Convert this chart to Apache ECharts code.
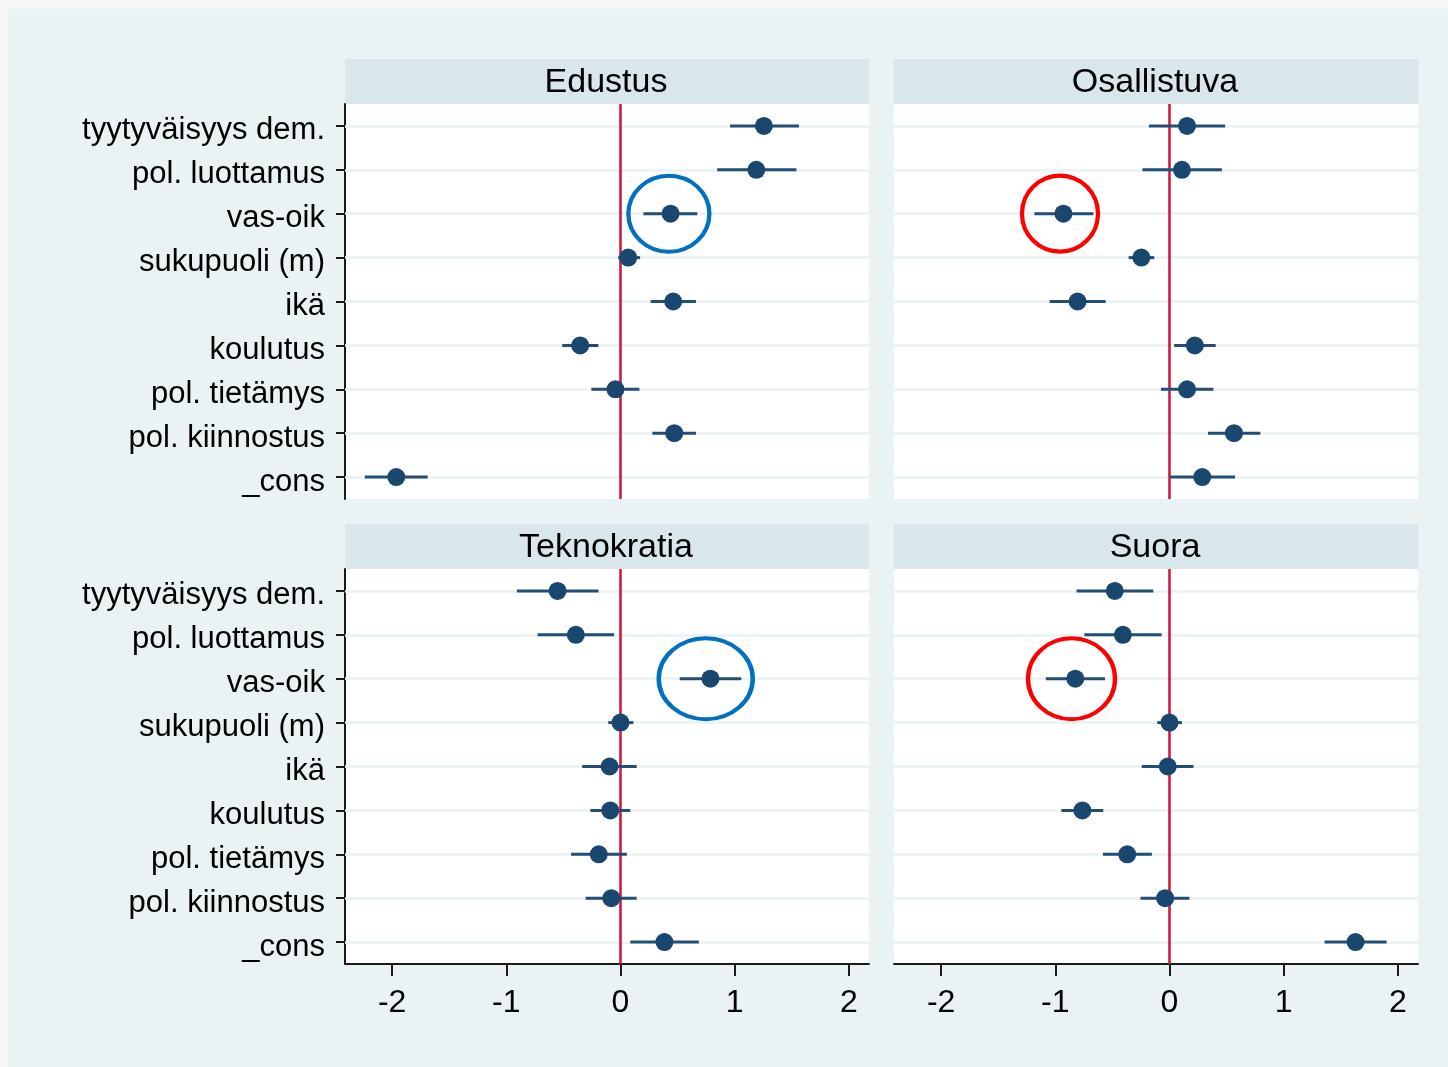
<!DOCTYPE html>
<html>
<head>
<meta charset="utf-8">
<script src="https://cdn.jsdelivr.net/npm/echarts@6/dist/echarts.min.js"></script>
<style>html,body{margin:0;padding:0;background:#f6f6f6;}#c{width:1448px;height:1067px;}</style>
</head>
<body>
<div id="c"></div>
<script>
const categories = ['tyytyväisyys dem.', 'pol. luottamus', 'vas-oik', 'sukupuoli (m)', 'ikä', 'koulutus', 'pol. tietämys', 'pol. kiinnostus', '_cons'];
const tickValues = [-2, -1, 0, 1, 2];
const panelTitles = ['Edustus', 'Osallistuva', 'Teknokratia', 'Suora'];

const edustusCoef = [1.256, 1.19, 0.439, 0.068, 0.462, -0.353, -0.044, 0.471, -1.964];
const edustusLo   = [0.96, 0.847, 0.201, -0.02, 0.264, -0.51, -0.255, 0.279, -2.24];
const edustusHi   = [1.564, 1.541, 0.673, 0.172, 0.661, -0.193, 0.166, 0.661, -1.689];

const osallistuvaCoef = [0.154, 0.109, -0.929, -0.246, -0.805, 0.222, 0.154, 0.565, 0.287];
const osallistuvaLo   = [-0.18, -0.237, -1.183, -0.358, -1.05, 0.041, -0.074, 0.337, 0.006];
const osallistuvaHi   = [0.488, 0.459, -0.666, -0.133, -0.559, 0.405, 0.385, 0.796, 0.574];

const teknokratiaCoef = [-0.551, -0.391, 0.788, 0.0, -0.095, -0.089, -0.19, -0.08, 0.385];
const teknokratiaLo   = [-0.907, -0.726, 0.519, -0.107, -0.335, -0.264, -0.433, -0.305, 0.086];
const teknokratiaHi   = [-0.193, -0.056, 1.058, 0.113, 0.142, 0.086, 0.056, 0.142, 0.687];

const suoraCoef = [-0.479, -0.408, -0.825, 0.0, -0.015, -0.763, -0.37, -0.038, 1.63];
const suoraLo   = [-0.814, -0.746, -1.083, -0.107, -0.243, -0.947, -0.583, -0.254, 1.358];
const suoraHi   = [-0.142, -0.068, -0.565, 0.109, 0.21, -0.58, -0.154, 0.175, 1.902];

// annotation rings around the vas-oik estimate
const highlightCategory = 'vas-oik';
const highlightCenter = [0.424, -0.959, 0.747, -0.858];
const highlightColor = ['#0070c0', '#ff0000', '#0070c0', '#ff0000'];
const highlightSize = [[81, 76], [76, 76], [94, 81], [87, 81]];

const panelCoef = [edustusCoef, osallistuvaCoef, teknokratiaCoef, suoraCoef];
const panelLo = [edustusLo, osallistuvaLo, teknokratiaLo, suoraLo];
const panelHi = [edustusHi, osallistuvaHi, teknokratiaHi, suoraHi];

const FONT = "'Liberation Sans', Arial, sans-serif";
const NAVY = '#1a476f';
const gridPos = [
  {left: 345, top: 104},
  {left: 894, top: 104},
  {left: 345, top: 569},
  {left: 894, top: 569}
];
const GW = 524, GH = 395;

const grids = gridPos.map(p => ({
  left: p.left, top: p.top, width: GW, height: GH,
  show: true, backgroundColor: '#ffffff', borderWidth: 0, containLabel: false
}));

const xAxes = gridPos.map((p, i) => {
  const bottom = i >= 2;
  return {
    gridIndex: i, type: 'value', min: -2.413, max: 2.177,
    splitLine: {show: false},
    axisLine: {show: bottom, onZero: false, lineStyle: {color: '#1a1a1a', width: 2}},
    axisTick: {show: bottom, customValues: tickValues, length: 12, lineStyle: {color: '#1a1a1a', width: 2}},
    axisLabel: {show: bottom, customValues: tickValues, fontSize: 32, fontFamily: FONT, color: '#000', margin: 23}
  };
});

const yAxes = gridPos.map((p, i) => {
  const left = i % 2 === 0;
  return {
    gridIndex: i, type: 'category', data: categories, inverse: true, boundaryGap: true,
    show: left,
    splitLine: {show: false},
    axisLine: {show: left, onZero: false, lineStyle: {color: '#1a1a1a', width: 2}},
    axisTick: {show: left, alignWithLabel: true, length: 9, lineStyle: {color: '#1a1a1a', width: 2}},
    axisLabel: {
      show: left, color: '#000', margin: 20, interval: 0,
      formatter: v => '{t|' + v + '}',
      rich: {t: {fontSize: 31, fontFamily: FONT, color: '#000', padding: [10, 0, 0, 0]}}
    }
  };
});

const series = [];
for (let i = 0; i < 4; i++) {
  // horizontal gridlines at each category
  series.push({
    type: 'scatter', xAxisIndex: i, yAxisIndex: i, data: [], z: 1, silent: true,
    markLine: {
      z: 1, silent: true, symbol: ['none', 'none'], label: {show: false}, animation: false,
      lineStyle: {color: '#eaf2f3', width: 2.5, type: 'solid'},
      emphasis: {disabled: true},
      data: categories.map(c => ({yAxis: c}))
    }
  });
  // reference line at zero
  series.push({
    type: 'scatter', xAxisIndex: i, yAxisIndex: i, data: [], z: 2, silent: true,
    markLine: {
      z: 2, silent: true, symbol: ['none', 'none'], label: {show: false}, animation: false,
      lineStyle: {color: '#d01a40', width: 2.6, type: 'solid'},
      emphasis: {disabled: true},
      data: [{xAxis: 0}]
    }
  });
  // confidence intervals
  series.push({
    type: 'custom', xAxisIndex: i, yAxisIndex: i, z: 3, silent: true,
    data: categories.map((c, k) => [panelLo[i][k], panelHi[i][k], k]),
    encode: {x: [0, 1], y: 2},
    renderItem: function (params, api) {
      const a = api.coord([api.value(0), api.value(2)]);
      const b = api.coord([api.value(1), api.value(2)]);
      return {type: 'rect', shape: {x: a[0], y: a[1] - 1.5, width: b[0] - a[0], height: 3},
              style: {fill: '#234e77'}};
    }
  });
  // point estimates
  series.push({
    type: 'scatter', xAxisIndex: i, yAxisIndex: i, z: 4, silent: true,
    symbol: 'circle', symbolSize: 18,
    itemStyle: {color: NAVY, opacity: 1},
    data: categories.map((c, k) => [panelCoef[i][k], k])
  });
  // annotation ring
  series.push({
    type: 'scatter', xAxisIndex: i, yAxisIndex: i, z: 6, silent: true,
    symbol: 'circle', symbolSize: highlightSize[i],
    itemStyle: {color: 'rgba(0,0,0,0)', borderColor: highlightColor[i], borderWidth: 4.2, opacity: 1},
    data: [[highlightCenter[i], highlightCategory]]
  });
}

const graphics = [
  {type: 'rect', z: -10, silent: true, shape: {x: 8, y: 9, width: 1440, height: 1058}, style: {fill: '#eaf2f3'}}
];
gridPos.forEach((p, i) => {
  graphics.push({type: 'rect', z: -5, silent: true, shape: {x: p.left, y: p.top - 45, width: GW, height: 45}, style: {fill: '#d9e6eb'}});
  graphics.push({type: 'text', z: 10, silent: true, x: p.left + GW / 2 - 1, y: p.top - 21,
    style: {text: panelTitles[i], fontSize: 34, fontFamily: FONT, fill: '#000', align: 'center', verticalAlign: 'middle'}});
});

const chart = echarts.init(document.getElementById('c'), null, {renderer: 'canvas'});
chart.setOption({
  backgroundColor: '#f6f6f6',
  animation: false,
  grid: grids,
  xAxis: xAxes,
  yAxis: yAxes,
  series: series,
  graphic: graphics
});
</script>
</body>
</html>
